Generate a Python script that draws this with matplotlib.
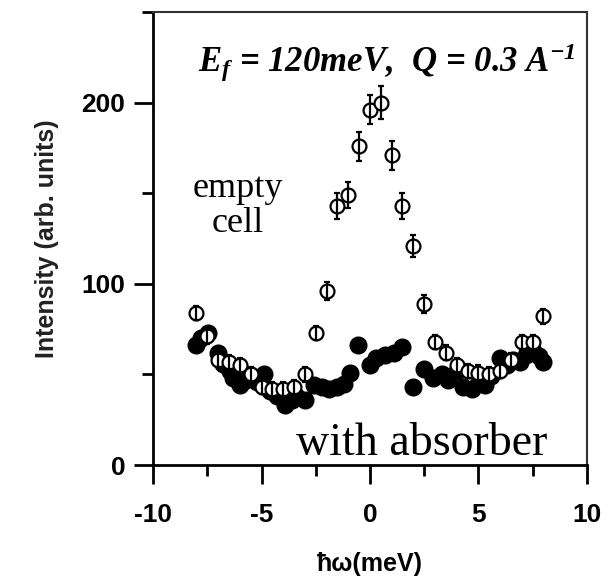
import numpy as np
import matplotlib
matplotlib.use('Agg')
import matplotlib.pyplot as plt
from matplotlib.ticker import MultipleLocator

plt.rcParams['axes.unicode_minus'] = False
plt.rcParams['mathtext.fontset'] = 'custom'
plt.rcParams['mathtext.rm'] = 'Liberation Serif:bold:italic'
plt.rcParams['mathtext.it'] = 'Liberation Serif:bold:italic'
plt.rcParams['mathtext.default'] = 'it'

# empty cell (open circles)
x_empty = [-8.0, -7.5, -7.0, -6.5, -6.0, -5.5, -5.0, -4.5, -4.0, -3.5, -3.0,
           -2.5, -2.0, -1.5, -1.0, -0.5, 0.0, 0.5, 1.0, 1.5, 2.0, 2.5, 3.0,
           3.5, 4.0, 4.5, 5.0, 5.5, 6.0, 6.5, 7.0, 7.5, 8.0]
y_empty = [84, 71, 58, 57, 55, 50, 43, 42, 42, 43, 50,
           73, 96, 143, 149, 176, 196, 200, 171, 143, 121, 89, 68,
           62, 55, 52, 51, 50, 52, 58, 68, 68, 82]
err_empty = [4, 4, 4, 4, 4, 4, 4, 4, 4, 4, 4,
             4, 5, 7, 7, 8, 8, 9, 8, 7, 6, 5, 4,
             4, 4, 4, 4, 4, 4, 4, 4, 4, 4]

# with absorber (filled circles)
x_abs = [-8.0, -7.8, -7.45, -7.0, -6.8, -6.45, -6.3, -6.0, -5.7, -5.5, -5.2,
         -4.9, -4.6, -4.3, -3.9, -3.6, -3.4, -3.0, -2.6, -2.2, -1.9, -1.5,
         -1.2, -0.9, -0.55, 0.0, 0.3, 0.7, 1.1, 1.5, 2.0, 2.5, 2.9, 3.3, 3.6,
         4.0, 4.3, 4.7, 5.0, 5.3, 5.6, 6.0, 6.3, 6.6, 6.9, 7.2, 7.5, 7.8, 8.0]
y_abs = [66, 70, 73, 62, 56, 52, 48, 44, 47, 48, 46,
         50, 41, 38, 33, 36, 38, 36, 44, 43, 42, 43,
         45, 51, 66, 55, 59, 61, 62, 65, 43, 53, 48, 50, 47,
         52, 43, 42, 45, 44, 49, 59, 55, 58, 57, 61, 63, 60, 57]

fig = plt.figure(figsize=(6.1, 5.77), dpi=100)
ax = fig.add_axes([0.251, 0.194, 0.711, 0.785])

ax.errorbar(x_abs, y_abs, yerr=3, fmt='o', ms=12, mfc='black', mec='black',
            ecolor='black', elinewidth=1.5, capsize=2, zorder=2)
ax.plot(x_empty, y_empty, 'o', ms=10, mfc='white', mec='black', mew=1.6, zorder=3)
ax.errorbar(x_empty, y_empty, yerr=err_empty, fmt='none', ecolor='black',
            elinewidth=1.6, capsize=2.5, capthick=1.6, zorder=4)

ax.set_xlim(-10, 10)
ax.set_ylim(0, 250)
ax.xaxis.set_major_locator(MultipleLocator(5))
ax.xaxis.set_minor_locator(MultipleLocator(2.5))
ax.set_yticks([0, 100, 200])
ax.yaxis.set_minor_locator(MultipleLocator(50))

for s in ['left', 'bottom']:
    ax.spines[s].set_linewidth(2)
for s in ['top', 'right']:
    ax.spines[s].set_linewidth(1.5)
    ax.spines[s].set_color('#333333')

ax.tick_params(which='major', direction='out', length=14, width=2,
               top=False, right=False)
ax.tick_params(which='minor', direction='out', length=8, width=2,
               top=False, right=False)
ax.tick_params(axis='x', which='major', pad=13)
ax.tick_params(axis='y', which='major', pad=6)

for lab in ax.get_xticklabels() + ax.get_yticklabels():
    lab.set_fontfamily('Liberation Sans')
    lab.set_fontweight('bold')
    lab.set_fontsize(19)

ax.set_ylabel('Intensity (arb. units)', fontfamily='Liberation Sans',
              fontweight='bold', fontsize=18, color='#222222', labelpad=16)
ax.set_xlabel('ħω(meV)', fontfamily='Liberation Sans', fontweight='bold',
              fontsize=18, labelpad=18)

ax.text(0.975, 0.868, r'$E_f$ = 120meV,  Q = 0.3 A$^{-1}$', transform=ax.transAxes,
        ha='right', va='baseline', fontfamily='Liberation Serif', fontweight='bold',
        fontstyle='italic', fontsize=25)
ax.text(0.196, 0.572, 'empty\ncell', transform=ax.transAxes, ha='center',
        va='center', fontfamily='Liberation Serif', fontsize=26, linespacing=1.1)
ax.text(0.62, 0.022, 'with absorber', transform=ax.transAxes, ha='center',
        va='baseline', fontfamily='Liberation Serif', fontsize=33)

fig.savefig('out.png', dpi=100)
